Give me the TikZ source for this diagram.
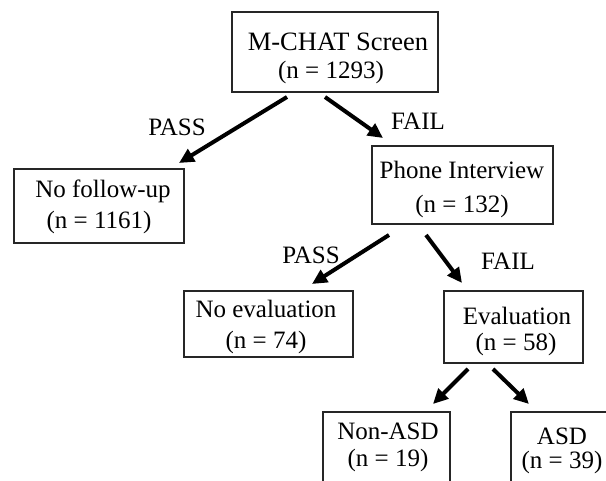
\documentclass[tikz,border=0pt]{standalone}
\usepackage{fontspec}
\setmainfont{Liberation Serif}
\usetikzlibrary{arrows.meta}
\begin{document}
\begin{tikzpicture}[x=1pt,y=-1pt,
  box/.style={draw=black!85, line width=1.1pt, rectangle, inner sep=0pt},
  txt/.style={anchor=base, inner sep=0pt, font=\fontsize{25}{29}\selectfont},
  arr/.style={line width=4pt, -{Triangle[length=15pt,width=14pt]}}]
\useasboundingbox (0,0) rectangle (606,481);
\clip (0,0) rectangle (606,481);
% boxes
\node[box, minimum width=206pt, minimum height=80pt] (mchat) at (335,52) {};
\node[box, minimum width=170pt, minimum height=74pt] (nofu) at (99,206) {};
\node[box, minimum width=181pt, minimum height=78pt] (phone) at (462.5,185) {};
\node[box, minimum width=169pt, minimum height=66pt] (noeval) at (268.5,324) {};
\node[box, minimum width=139pt, minimum height=72pt] (eval) at (513.5,327) {};
\node[box, minimum width=127pt, minimum height=108pt] (nonasd) at (386.5,466) {};
\node[box, minimum width=139pt, minimum height=108pt] (asd) at (580.5,466) {};
% texts
\node[txt, font=\fontsize{26.5}{30}\selectfont] (t1a) at (338,51) {M-CHAT Screen};
\node[txt] (t1b) at (331,78.5) {(n = 1293)};
\node[txt] (t2a) at (103,198) {No follow-up};
\node[txt] (t2b) at (99,228.5) {(n = 1161)};
\node[txt] (t3a) at (462,179) {Phone Interview};
\node[txt] (t3b) at (462,212.5) {(n = 132)};
\node[txt] (t4a) at (266,318) {No evaluation};
\node[txt] (t4b) at (266,348.5) {(n = 74)};
\node[txt] (t5a) at (517,325) {Evaluation};
\node[txt] (t5b) at (516,350.5) {(n = 58)};
\node[txt] (t6a) at (388,440) {Non-ASD};
\node[txt] (t6b) at (388,466.5) {(n = 19)};
\node[txt] (t7a) at (562,445) {ASD};
\node[txt] (t7b) at (562,468.5) {(n = 39)};
% labels
\node[txt] (l1) at (177,136) {PASS};
\node[txt] (l2) at (418,130) {FAIL};
\node[txt] (l3) at (311,264) {PASS};
\node[txt] (l4) at (508,270) {FAIL};
% connector end points
\coordinate (a1s) at (287,97);  \coordinate (a1e) at (179,163);
\coordinate (a2s) at (325,97);  \coordinate (a2e) at (383,138);
\coordinate (a3s) at (389,235); \coordinate (a3e) at (312,284);
\coordinate (a4s) at (426,235); \coordinate (a4e) at (462,283);
\coordinate (a5s) at (468,369); \coordinate (a5e) at (433,404);
\coordinate (a6s) at (493,369); \coordinate (a6e) at (529,404);
\draw[arr] (a1s) -- (a1e);
\draw[arr] (a2s) -- (a2e);
\draw[arr] (a3s) -- (a3e);
\draw[arr] (a4s) -- (a4e);
\draw[arr] (a5s) -- (a5e);
\draw[arr] (a6s) -- (a6e);
\end{tikzpicture}
\end{document}
